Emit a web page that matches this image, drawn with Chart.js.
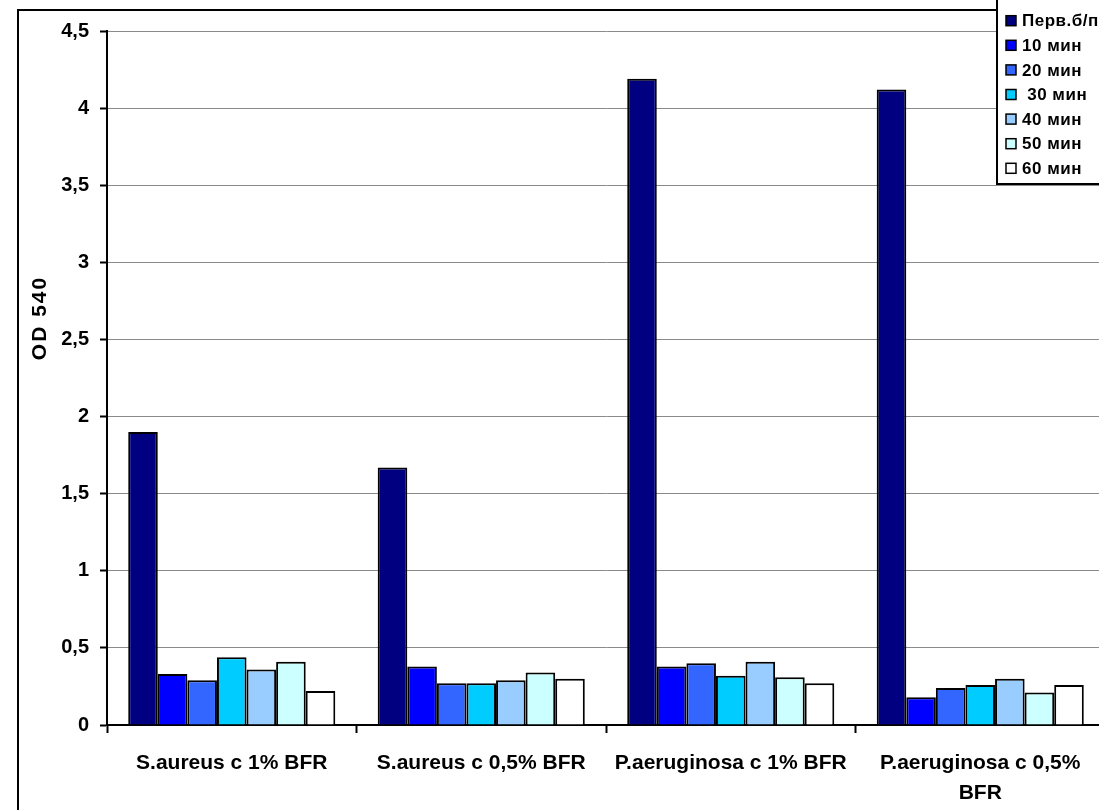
<!DOCTYPE html>
<html>
<head>
<meta charset="utf-8">
<script src="https://cdn.jsdelivr.net/npm/chart.js@4/dist/chart.umd.min.js"></script>
<style>
  html, body { margin: 0; padding: 0; background: #fff; }
  #wrap { width: 1099px; height: 810px; overflow: hidden; position: relative; }
  canvas { display: block; }
</style>
</head>
<body>
<div id="wrap"><canvas id="c" width="1120" height="810"></canvas></div>
<script>
// Groups on the x axis
const categories = [
  'S.aureus с 1% BFR',
  'S.aureus с 0,5% BFR',
  'P.aeruginosa с 1% BFR',
  ['P.aeruginosa с 0,5%', 'BFR']
];

// Series names (exposure time)
const seriesNames = ['Перв.б/п', '10 мин', '20 мин', ' 30 мин', '40 мин', '50 мин', '60 мин'];
const seriesColors = ['#000080', '#0000FF', '#3366FF', '#00CCFF', '#99CCFF', '#CCFFFF', '#FFFFFF'];

// OD 540 readings per series
const pervBP = [1.90, 1.67, 4.19, 4.12];
const min10  = [0.33, 0.38, 0.38, 0.18];
const min20  = [0.29, 0.27, 0.40, 0.24];
const min30  = [0.44, 0.27, 0.32, 0.26];
const min40  = [0.36, 0.29, 0.41, 0.30];
const min50  = [0.41, 0.34, 0.31, 0.21];
const min60  = [0.22, 0.30, 0.27, 0.26];

const seriesValues = [pervBP, min10, min20, min30, min40, min50, min60];

// Value axis
const yMin = 0, yMax = 4.5, yStep = 0.5;
const yTitle = 'OD 540';

const FONT = '"Liberation Sans", Arial, sans-serif';

const datasets = seriesNames.map((name, i) => ({
  label: name,
  data: seriesValues[i],
  backgroundColor: seriesColors[i],
  borderColor: '#000',
  borderWidth: 2,
  borderSkipped: 'start',
  categoryPercentage: 0.83,
  barPercentage: 1.0
}));

// White page, frame around the chart, rotated y title
const framePlugin = {
  id: 'frame',
  beforeDraw(chart) {
    const ctx = chart.ctx;
    ctx.save();
    ctx.fillStyle = '#fff';
    ctx.fillRect(0, 0, chart.width, chart.height);
    ctx.strokeStyle = '#000';
    ctx.lineWidth = 2;
    ctx.strokeRect(18, 10, chart.width + 40, chart.height + 40);
    ctx.restore();
  },
  afterDraw(chart) {
    const ctx = chart.ctx;
    ctx.save();
    ctx.translate(40, 318);
    ctx.rotate(-Math.PI / 2);
    ctx.font = 'bold 21px ' + FONT;
    if ('letterSpacing' in ctx) ctx.letterSpacing = '2px';
    ctx.fillStyle = '#000';
    ctx.textAlign = 'center';
    ctx.textBaseline = 'middle';
    ctx.fillText(yTitle, 0, 0);
    ctx.restore();
  }
};

// Boxed legend in the top-right corner
const legendBoxPlugin = {
  id: 'legendBox',
  afterDraw(chart) {
    const ctx = chart.ctx;
    const ds = chart.data.datasets;
    const boxX = 997, boxY = -4, boxW = 200, boxH = 188;
    ctx.save();
    ctx.fillStyle = '#fff';
    ctx.fillRect(boxX, boxY, boxW, boxH);
    ctx.strokeStyle = '#000';
    ctx.lineWidth = 2;
    ctx.strokeRect(boxX, boxY, boxW, boxH);
    ctx.font = 'bold 17px ' + FONT;
    if ('letterSpacing' in ctx) ctx.letterSpacing = '0.5px';
    ctx.textBaseline = 'middle';
    ctx.textAlign = 'left';
    ds.forEach((d, i) => {
      const cy = 20.7 + i * 24.6;
      ctx.fillStyle = d.backgroundColor;
      ctx.fillRect(1006, cy - 5, 10, 10);
      ctx.strokeStyle = '#000';
      ctx.lineWidth = 1.5;
      ctx.strokeRect(1006, cy - 5, 10, 10);
      ctx.fillStyle = '#000';
      ctx.fillText(d.label, 1022, cy + 1);
    });
    ctx.restore();
  }
};

new Chart(document.getElementById('c'), {
  type: 'bar',
  data: { labels: categories, datasets },
  options: {
    responsive: false,
    animation: false,
    devicePixelRatio: 1,
    layout: { padding: { top: 31, right: 15, bottom: 0, left: 0 } },
    plugins: {
      legend: { display: false },
      tooltip: { enabled: false },
      title: { display: false }
    },
    scales: {
      x: {
        offset: true,
        grid: {
          offset: true,
          drawOnChartArea: false,
          drawTicks: true,
          tickLength: 8,
          tickColor: '#000',
          tickWidth: 2
        },
        border: { display: true, color: '#000', width: 2 },
        ticks: {
          color: '#000',
          font: { family: FONT, size: 21, weight: 'bold', lineHeight: 1.45 },
          padding: 15,
          maxRotation: 0,
          minRotation: 0,
          autoSkip: false
        },
        afterFit(scale) { scale.height = 85; }
      },
      y: {
        min: yMin,
        max: yMax,
        grid: {
          color: '#8a8a8a',
          lineWidth: 1,
          borderDash: [1, 1],
          drawTicks: true,
          tickLength: 7,
          tickColor: '#000',
          tickWidth: 2,
          tickBorderDash: []
        },
        border: { display: true, color: '#000', width: 2 },
        ticks: {
          stepSize: yStep,
          color: '#000',
          padding: 11,
          font: { family: FONT, size: 20, weight: 'bold' },
          callback: (v) => String(Number(v.toFixed(1))).replace('.', ',')
        },
        afterFit(scale) { scale.width = 107; }
      }
    }
  },
  plugins: [framePlugin, legendBoxPlugin]
});
</script>
</body>
</html>
